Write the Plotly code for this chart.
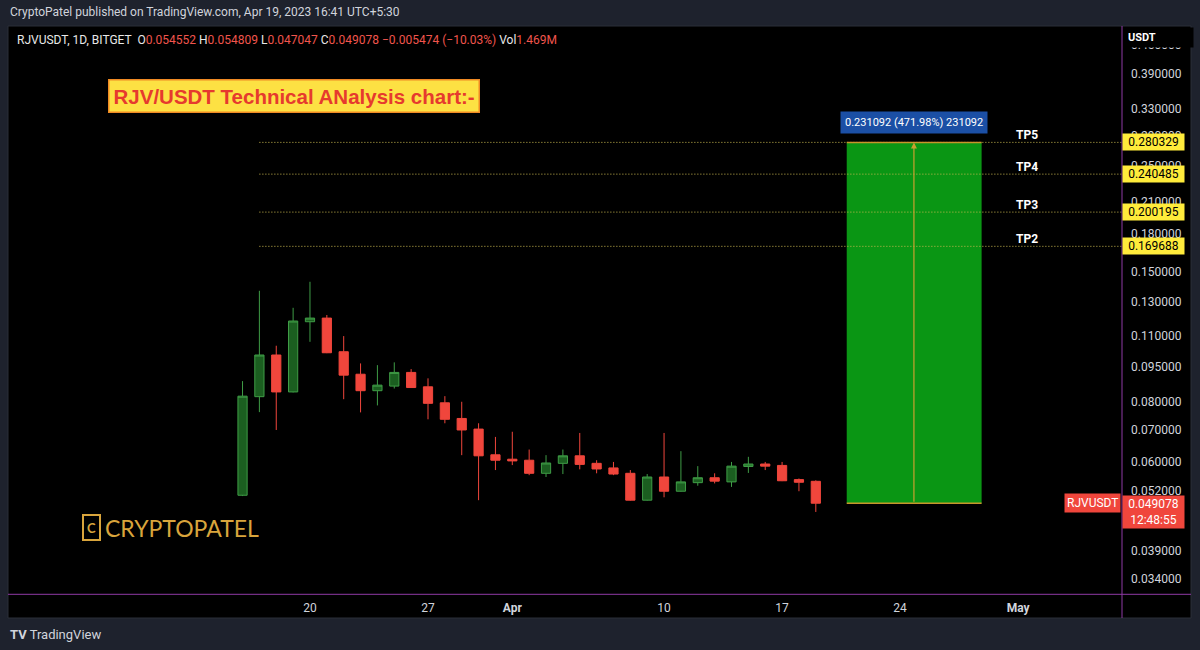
import math
import plotly.graph_objects as go

# ---------------- data ----------------
dates = ["2023-03-16", "2023-03-17", "2023-03-18", "2023-03-19", "2023-03-20",
         "2023-03-21", "2023-03-22", "2023-03-23", "2023-03-24", "2023-03-25",
         "2023-03-26", "2023-03-27", "2023-03-28", "2023-03-29", "2023-03-30",
         "2023-03-31", "2023-04-01", "2023-04-02", "2023-04-03", "2023-04-04",
         "2023-04-05", "2023-04-06", "2023-04-07", "2023-04-08", "2023-04-09",
         "2023-04-10", "2023-04-11", "2023-04-12", "2023-04-13", "2023-04-14",
         "2023-04-15", "2023-04-16", "2023-04-17", "2023-04-18", "2023-04-19"]
opens = [0.0510, 0.0821, 0.1004, 0.0840, 0.1179, 0.1200, 0.1020, 0.0915, 0.0845, 0.0864,
         0.0923, 0.0861, 0.0797, 0.0739, 0.0702, 0.0620, 0.0607, 0.0604, 0.0567, 0.0595,
         0.0617, 0.0595, 0.0582, 0.0567, 0.0498, 0.0557, 0.0520, 0.0542, 0.0555, 0.0544,
         0.0586, 0.0593, 0.0589, 0.0550, 0.054552]
highs = [0.0885, 0.1369, 0.1050, 0.1261, 0.1430, 0.1218, 0.1100, 0.0964, 0.0956, 0.0969,
         0.0938, 0.0897, 0.0823, 0.0801, 0.0722, 0.0676, 0.0693, 0.0636, 0.0619, 0.0636,
         0.0689, 0.0604, 0.0599, 0.0576, 0.0565, 0.0689, 0.0631, 0.0587, 0.0567, 0.0599,
         0.0614, 0.0599, 0.0599, 0.0553, 0.054809]
lows = [0.0508, 0.0762, 0.0699, 0.0838, 0.1070, 0.1013, 0.0811, 0.0761, 0.0787, 0.0854,
        0.0856, 0.0736, 0.0722, 0.0619, 0.0498, 0.0576, 0.0590, 0.0562, 0.0557, 0.0565,
        0.0578, 0.0567, 0.0562, 0.0497, 0.0497, 0.0505, 0.0519, 0.0534, 0.0540, 0.0531,
        0.0568, 0.0576, 0.0546, 0.0520, 0.047047]
closes = [0.0823, 0.1004, 0.0840, 0.1183, 0.1200, 0.1015, 0.0911, 0.0845, 0.0868, 0.0923,
          0.0858, 0.0795, 0.0736, 0.0699, 0.0617, 0.0604, 0.0602, 0.0567, 0.0596, 0.0617,
          0.0592, 0.0579, 0.0565, 0.0498, 0.0557, 0.0520, 0.0544, 0.0555, 0.0546, 0.0587,
          0.0593, 0.0587, 0.0547, 0.0543, 0.049078]

tp_names = ["TP2", "TP3", "TP4", "TP5"]
tp_levels = [0.169688, 0.200195, 0.240485, 0.280329]
entry_price = 0.049078
tp_line_start = "2023-03-17"
tp_label_x = "2023-05-01 13:00"
proj_start = "2023-04-20 20:00"
proj_end = "2023-04-28 20:00"
proj_arrow_x = "2023-04-24 19:40"
measure_text = "0.231092 (471.98%) 231092"

y_ticks = [0.45, 0.39, 0.33, 0.29, 0.25, 0.21, 0.18, 0.15, 0.13, 0.11, 0.095,
           0.08, 0.07, 0.06, 0.052, 0.045, 0.039, 0.034]
x_tick_dates = ["2023-03-20", "2023-03-27", "2023-04-01", "2023-04-10",
                "2023-04-17", "2023-04-24", "2023-05-01"]
x_tick_text = ["20", "27", "<b>Apr</b>", "10", "17", "24", "<b>May</b>"]
x_range = ["2023-03-02 02:10", "2023-05-07 03:50"]
y_range = [0.03161, 0.4918]

# ---------------- styling ----------------
W, H = 1200, 650
def PX(x): return x / W
def PY(y): return (H - y) / H

BG = "#1e222d"
TXT = "#d1d4dc"
RED = "#f0463c"
PURPLE = "#8f3aa6"
FONT = "Roboto, Liberation Sans, Arial"

fig = go.Figure()

# projection box
fig.add_trace(go.Scatter(
    x=[proj_start, proj_end, proj_end, proj_start, proj_start],
    y=[entry_price, entry_price, tp_levels[-1], tp_levels[-1], entry_price],
    fill="toself", fillcolor="#0a9614", line=dict(width=0), mode="lines",
    hoverinfo="skip", showlegend=False))

# TP dotted lines
for lvl in tp_levels:
    fig.add_trace(go.Scatter(
        x=[tp_line_start, x_range[1]], y=[lvl, lvl], mode="lines",
        line=dict(color="#c9b84f", width=1, dash="1px,2px"),
        hoverinfo="skip", showlegend=False))

# box edges
for lvl in [entry_price, tp_levels[-1]]:
    fig.add_trace(go.Scatter(
        x=[proj_start, proj_end], y=[lvl, lvl], mode="lines",
        line=dict(color="#c8952a", width=1.5),
        hoverinfo="skip", showlegend=False))

fig.add_trace(go.Candlestick(
    x=dates, open=opens, high=highs, low=lows, close=closes,
    increasing=dict(fillcolor="#1b5e20", line=dict(color="#3f9c46", width=1)),
    decreasing=dict(fillcolor=RED, line=dict(color=RED, width=1)),
    whiskerwidth=0, showlegend=False, hoverinfo="skip"))

shapes = [
    # black chart panel
    dict(type="rect", xref="paper", yref="paper", x0=PX(8), x1=PX(1191),
         y0=PY(618), y1=PY(26), fillcolor="#000000", line=dict(color="#2a2e39", width=1),
         layer="below"),
    # purple axis lines
    dict(type="line", xref="paper", yref="paper", x0=PX(8), x1=PX(1191),
         y0=PY(594.3), y1=PY(594.3), line=dict(color=PURPLE, width=1)),
    dict(type="line", xref="paper", yref="paper", x0=PX(1122), x1=PX(1122),
         y0=PY(618), y1=PY(26), line=dict(color=PURPLE, width=1)),
    # logo coin
    dict(type="rect", xref="paper", yref="paper", x0=PX(83), x1=PX(100),
         y0=PY(540), y1=PY(515), line=dict(color="#d9a53c", width=2),
         fillcolor="rgba(0,0,0,0)"),
]

L = math.log10
ann = []
ann.append(dict(xref="paper", yref="paper", x=PX(8), y=PY(12), xanchor="left", yanchor="middle",
                text="CryptoPatel published on TradingView.com, Apr 19, 2023 16:41 UTC+5:30",
                showarrow=False, font=dict(family=FONT, size=12, color=TXT)))

def rv(s):
    return f'<span style="color:#f0554d">{s}</span>'
legend_txt = ("RJVUSDT, 1D, BITGET  O" + rv(f"{opens[-1]:.6f}") + " H" + rv(f"{highs[-1]:.6f}")
              + " L" + rv(f"{lows[-1]:.6f}") + " C" + rv(f"{closes[-1]:.6f}") + " "
              + rv("−0.005474 (−10.03%)") + " Vol" + rv("1.469M"))
ann.append(dict(xref="paper", yref="paper", x=PX(15), y=PY(40), xanchor="left", yanchor="middle",
                text=legend_txt, showarrow=False, font=dict(family=FONT, size=12, color="#e8e8e8")))

ann.append(dict(xref="paper", yref="paper", x=PX(1124), y=PY(37), xanchor="left", yanchor="middle",
                text="<b>USDT</b>", showarrow=False, bgcolor="#000000", width=62, align="left",
                borderpad=3, font=dict(family=FONT, size=11, color="#ffffff")))

ann.append(dict(xref="paper", yref="paper", x=PX(294), y=PY(95.5), xanchor="center", yanchor="middle",
                text="<b>RJV/USDT Technical ANalysis chart:-</b>", showarrow=False,
                bgcolor="#fde143", bordercolor="#f08a24", borderwidth=1.5, borderpad=4,
                font=dict(family="Liberation Sans, Arial", size=20.5, color="#e63a2e")))

for name, lvl in zip(tp_names, tp_levels):
    ann.append(dict(xref="x", yref="y", x=tp_label_x, y=L(lvl), xanchor="center",
                    yanchor="bottom", yshift=-2, text=f"<b>{name}</b>", showarrow=False,
                    font=dict(family=FONT, size=12, color="#ffffff")))
    ann.append(dict(xref="paper", yref="y", x=PX(1122), y=L(lvl), xanchor="left", yanchor="middle",
                    text=f"{lvl:.6f}", showarrow=False, bgcolor="#ffeb3b", width=59, borderpad=1,
                    font=dict(family=FONT, size=12, color="#000000")))

# measurement arrow
ann.append(dict(xref="x", yref="y", x=proj_arrow_x, y=L(tp_levels[-1]),
                axref="x", ayref="y", ax=proj_arrow_x, ay=L(entry_price),
                showarrow=True, arrowhead=2, arrowsize=1, arrowwidth=1.2, arrowcolor="#c8a030",
                text=""))
ann.append(dict(xref="x", yref="y", x=proj_arrow_x, y=L(tp_levels[-1]), yshift=20,
                xanchor="center", yanchor="middle", text=measure_text, showarrow=False,
                bgcolor="#1b4fa5", borderpad=4, font=dict(family=FONT, size=11, color="#ffffff")))

# last price labels
ann.append(dict(xref="paper", yref="y", x=PX(1121), y=L(entry_price), xanchor="right", yanchor="middle",
                text="RJVUSDT", showarrow=False, bgcolor=RED, borderpad=2,
                font=dict(family=FONT, size=12, color="#ffffff")))
ann.append(dict(xref="paper", yref="y", x=PX(1122), y=L(entry_price), xanchor="left", yanchor="top",
                yshift=8, text=f"{entry_price:.6f}<br>12:48:55", showarrow=False, bgcolor=RED,
                width=59, borderpad=1, font=dict(family=FONT, size=12, color="#ffffff")))

# logo text
ann.append(dict(xref="paper", yref="paper", x=PX(91.5), y=PY(527.5), xanchor="center", yanchor="middle",
                text="<b>C</b>", showarrow=False, font=dict(family="Lato, Liberation Sans", size=13, color="#d9a53c")))
ann.append(dict(xref="paper", yref="paper", x=PX(103), y=PY(527.5), xanchor="left", yanchor="middle",
                text="CRYPTOPATEL", showarrow=False,
                font=dict(family="Lato, Liberation Sans", size=23, color="#d9a53c")))

# footer
ann.append(dict(xref="paper", yref="paper", x=PX(8), y=PY(634), xanchor="left", yanchor="middle",
                text="<b>TV</b> TradingView", showarrow=False,
                font=dict(family=FONT, size=13, color=TXT)))

fig.update_layout(
    width=W, height=H, margin=dict(l=0, r=0, t=0, b=0),
    paper_bgcolor=BG, plot_bgcolor="#000000",
    boxgap=0.22, showlegend=False,
    shapes=shapes, annotations=ann,
    xaxis=dict(domain=[PX(8), PX(1122)], type="date", range=x_range,
               tickvals=x_tick_dates, ticktext=x_tick_text, showgrid=False, zeroline=False,
               showline=False, ticks="", ticklabelstandoff=5,
               tickfont=dict(family=FONT, size=12, color=TXT),
               rangeslider=dict(visible=False), fixedrange=True),
    yaxis=dict(domain=[PY(594.3), PY(26)], type="log", range=[L(y_range[0]), L(y_range[1])],
               side="right", tickvals=y_ticks, tickformat=".6f", showgrid=False, zeroline=False,
               showline=False, ticks="", ticklabelstandoff=8,
               tickfont=dict(family=FONT, size=12, color=TXT), fixedrange=True),
)

fig.write_html("out.html")
